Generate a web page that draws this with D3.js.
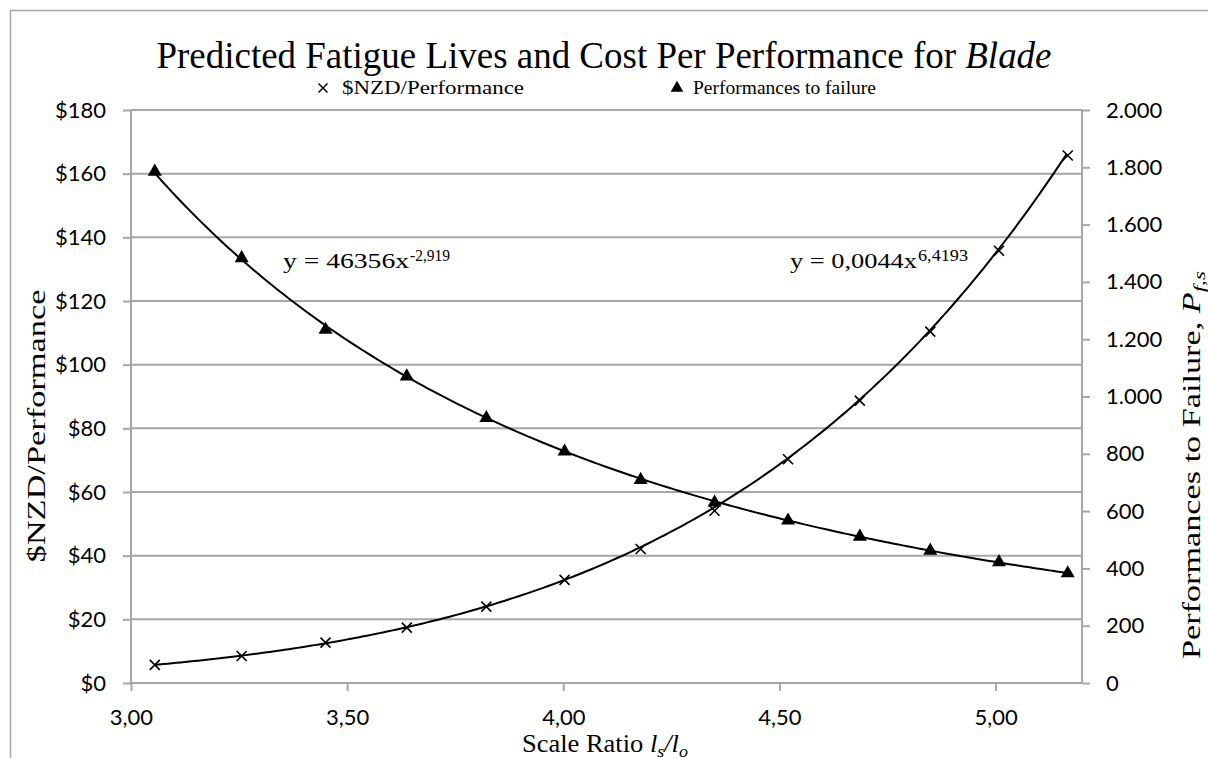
<!DOCTYPE html>
<html>
<head>
<meta charset="utf-8">
<script src="https://cdn.jsdelivr.net/npm/d3@7"></script>
<style>
  body { margin: 0; background: #fff; }
  svg { display: block; }
</style>
</head>
<body>
<svg id="chart" width="1208" height="758"></svg>
<script>
// data
const scaleRatio = [3.055, 3.256, 3.45, 3.638, 3.822, 4.003, 4.179, 4.35, 4.52, 4.686, 4.849, 5.008, 5.167];
const costPerPerformance = [5.7, 8.5, 12.7, 17.4, 24.0, 32.4, 42.1, 54.1, 70.3, 88.7, 110.4, 135.8, 165.7];
const performancesToFailure = [1785, 1483, 1233, 1070, 925, 808, 709, 630, 567, 511, 462, 422, 383];

const xTicks = [3.0, 3.5, 4.0, 4.5, 5.0];
const costTicks = d3.range(0, 181, 20);
const perfTicks = d3.range(0, 2001, 200);

// trendline coefficients as printed on the chart
const costFit = { a: 0.0044, b: 6.4193, label: "y = 0,0044x", sup: "6,4193" };
const perfFit = { a: 46356, b: -2.919, label: "y = 46356x", sup: "-2,919" };

const svg = d3.select("#chart");
const margin = { left: 131, right: 1082, top: 110, bottom: 683 };

const x = d3.scaleLinear().domain([3.0, 5.2]).range([margin.left, margin.right]);
const yCost = d3.scaleLinear().domain([0, 180]).range([margin.bottom, margin.top]);
const yPerf = d3.scaleLinear().domain([0, 2000]).range([margin.bottom, margin.top]);

const grey = "#a6a6a6";
const serif = "'Liberation Serif', 'Times New Roman', serif";
const sans = "Lato, 'Open Sans', sans-serif";

// chart border (cut off at right and bottom)
svg.append("path")
  .attr("d", "M10.5,758 V10.5 H1208")
  .attr("fill", "none")
  .attr("stroke", grey)
  .attr("stroke-width", 1.5);

// gridlines
svg.append("g")
  .selectAll("line")
  .data(costTicks.slice(1))
  .enter()
  .append("line")
  .attr("x1", margin.left)
  .attr("x2", margin.right)
  .attr("y1", (d) => yCost(d))
  .attr("y2", (d) => yCost(d))
  .attr("stroke", grey)
  .attr("stroke-width", 2);

// axes
const leftAxis = svg.append("g")
  .attr("transform", `translate(${margin.left},0)`)
  .call(d3.axisLeft(yCost).tickValues(costTicks).tickSize(8).tickPadding(17)
    .tickFormat((d) => "$" + d));

const rightAxis = svg.append("g")
  .attr("transform", `translate(${margin.right},0)`)
  .call(d3.axisRight(yPerf).tickValues(perfTicks).tickSize(8).tickPadding(16)
    .tickFormat((d) => d3.format(",")(d).replace(",", ".")));

const bottomAxis = svg.append("g")
  .attr("transform", `translate(0,${margin.bottom})`)
  .call(d3.axisBottom(x).tickValues(xTicks).tickSize(8).tickPadding(18)
    .tickFormat((d) => d3.format(".2f")(d).replace(".", ",")));

[leftAxis, rightAxis, bottomAxis].forEach((g) => {
  g.select(".domain").attr("stroke", grey).attr("stroke-width", 2);
  g.selectAll(".tick line").attr("stroke", grey).attr("stroke-width", 2);
  g.selectAll(".tick text")
    .attr("fill", "#000")
    .style("font-family", sans)
    .style("font-size", "22px");
});
bottomAxis.select(".domain").attr("d", `M${margin.left},0H${margin.right}`);
leftAxis.select(".domain").attr("d", `M0,${margin.bottom}V${margin.top}`);
rightAxis.select(".domain").attr("d", `M0,${margin.bottom}V${margin.top}`);

// trendlines
function fitLine(fit, yScale) {
  const xs = d3.range(scaleRatio[0], scaleRatio[scaleRatio.length - 1] + 0.0001, 0.01);
  return d3.line()
    .x((d) => x(d))
    .y((d) => yScale(fit.a * Math.pow(d, fit.b)))(xs);
}

svg.append("path")
  .attr("d", fitLine(costFit, yCost))
  .attr("fill", "none")
  .attr("stroke", "#000")
  .attr("stroke-width", 2);

svg.append("path")
  .attr("d", fitLine(perfFit, yPerf))
  .attr("fill", "none")
  .attr("stroke", "#000")
  .attr("stroke-width", 2);

// markers
const crossPath = "M-5,-5L5,5M-5,5L5,-5";
const trianglePath = d3.symbol().type(d3.symbolTriangle).size(85)();

svg.append("g")
  .selectAll("path")
  .data(scaleRatio.map((d, i) => [d, costPerPerformance[i]]))
  .enter()
  .append("path")
  .attr("transform", (d) => `translate(${x(d[0])},${yCost(d[1])})`)
  .attr("d", crossPath)
  .attr("stroke", "#000")
  .attr("stroke-width", 1.6)
  .attr("fill", "none");

svg.append("g")
  .selectAll("path")
  .data(scaleRatio.map((d, i) => [d, performancesToFailure[i]]))
  .enter()
  .append("path")
  .attr("transform", (d) => `translate(${x(d[0])},${yPerf(d[1])})`)
  .attr("d", trianglePath)
  .attr("fill", "#000");

// title
const title = svg.append("text")
  .attr("x", 604)
  .attr("y", 68)
  .attr("text-anchor", "middle")
  .attr("textLength", 895)
  .attr("lengthAdjust", "spacingAndGlyphs")
  .style("font-family", serif)
  .style("font-size", "37px");
title.append("tspan").text("Predicted Fatigue Lives and Cost Per Performance for ");
title.append("tspan").style("font-style", "italic").text("Blade");

// legend
svg.append("path")
  .attr("transform", "translate(323,88)")
  .attr("d", "M-4.5,-4.5L4.5,4.5M-4.5,4.5L4.5,-4.5")
  .attr("stroke", "#000")
  .attr("stroke-width", 1.5);
svg.append("text")
  .attr("x", 342).attr("y", 94)
  .attr("textLength", 182)
  .attr("lengthAdjust", "spacingAndGlyphs")
  .style("font-family", serif)
  .style("font-size", "18px")
  .text("$NZD/Performance");
svg.append("path")
  .attr("transform", "translate(677,88)")
  .attr("d", d3.symbol().type(d3.symbolTriangle).size(70)())
  .attr("fill", "#000");
svg.append("text")
  .attr("x", 693).attr("y", 94)
  .attr("textLength", 183)
  .attr("lengthAdjust", "spacingAndGlyphs")
  .style("font-family", serif)
  .style("font-size", "18px")
  .text("Performances to failure");

// trendline equations
function equation(fit, px, py, mainLen, supLen) {
  svg.append("text")
    .attr("x", px).attr("y", py)
    .attr("textLength", mainLen)
    .attr("lengthAdjust", "spacingAndGlyphs")
    .style("font-family", serif)
    .style("font-size", "22px")
    .text(fit.label);
  svg.append("text")
    .attr("x", px + mainLen + 1).attr("y", py - 7)
    .attr("textLength", supLen)
    .attr("lengthAdjust", "spacingAndGlyphs")
    .style("font-family", serif)
    .style("font-size", "17px")
    .text(fit.sup);
}
equation(perfFit, 283, 268, 126, 40);
equation(costFit, 790, 268, 127, 50);

// axis titles
svg.append("text")
  .attr("transform", "translate(45,426) rotate(-90)")
  .attr("text-anchor", "middle")
  .attr("textLength", 273)
  .attr("lengthAdjust", "spacingAndGlyphs")
  .style("font-family", serif)
  .style("font-size", "26px")
  .text("$NZD/Performance");

const rightTitle = svg.append("text")
  .attr("transform", "translate(1200,465) rotate(-90)")
  .attr("text-anchor", "middle")
  .attr("textLength", 388)
  .attr("lengthAdjust", "spacingAndGlyphs")
  .style("font-family", serif)
  .style("font-size", "25px");
rightTitle.append("tspan").text("Performances to Failure, ");
rightTitle.append("tspan").style("font-style", "italic").text("P");
rightTitle.append("tspan").attr("dy", 5).style("font-style", "italic").style("font-size", "17px").text("f,s");

const xTitle = svg.append("text")
  .attr("x", 605)
  .attr("y", 752)
  .attr("text-anchor", "middle")
  .attr("textLength", 166)
  .attr("lengthAdjust", "spacingAndGlyphs")
  .style("font-family", serif)
  .style("font-size", "25px");
xTitle.append("tspan").text("Scale Ratio ");
xTitle.append("tspan").style("font-style", "italic").text("l");
xTitle.append("tspan").attr("dy", 5).style("font-style", "italic").style("font-size", "17px").text("s");
xTitle.append("tspan").attr("dy", -5).style("font-style", "italic").text("/l");
xTitle.append("tspan").attr("dy", 5).style("font-style", "italic").style("font-size", "17px").text("o");
</script>
</body>
</html>
